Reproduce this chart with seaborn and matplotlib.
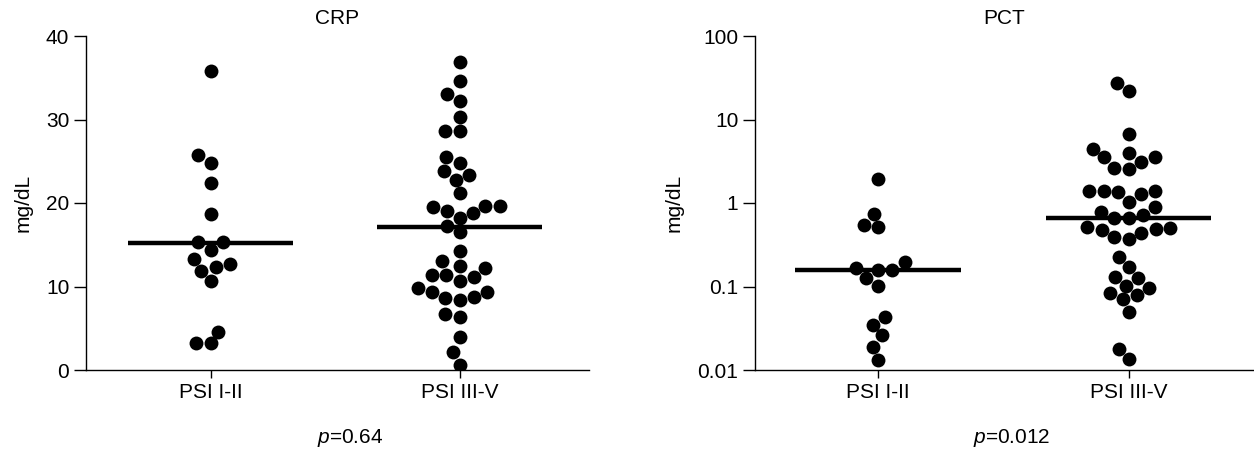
import matplotlib
matplotlib.use("Agg")
import matplotlib.pyplot as plt
import seaborn as sns
import pandas as pd

# valores
groups = ["PSI I-II", "PSI III-V"]
crp_psi12 = [35.8, 25.7, 24.8, 22.4, 18.7, 15.3, 15.3, 14.4, 13.3, 12.7, 12.3, 11.9,
             10.6, 4.6, 3.2, 3.2]
crp_psi35 = [36.9, 34.6, 33.1, 32.2, 30.3, 28.6, 28.6, 25.5, 24.8, 23.8, 23.4, 22.8,
             21.2, 19.7, 19.7, 19.5, 19.1, 18.8, 18.2, 17.3, 16.5, 14.2, 13.0, 12.4,
             12.2, 11.4, 11.4, 11.1, 10.7, 9.8, 9.4, 9.3, 8.8, 8.6, 8.4, 6.7, 6.4,
             3.9, 2.1, 0.6]
pct_psi12 = [1.92, 0.74, 0.55, 0.51, 0.195, 0.165, 0.158, 0.158, 0.125, 0.101, 0.043,
             0.035, 0.026, 0.019, 0.0132]
pct_psi35 = [27.6, 21.9, 6.7, 4.43, 3.94, 3.59, 3.52, 3.12, 2.65, 2.55, 1.39, 1.39,
             1.39, 1.37, 1.27, 1.04, 0.90, 0.79, 0.72, 0.67, 0.655, 0.52, 0.50, 0.484,
             0.475, 0.441, 0.395, 0.367, 0.227, 0.170, 0.129, 0.128, 0.102, 0.097,
             0.083, 0.079, 0.070, 0.049, 0.018, 0.0134]
crp_ticks = [0, 10, 20, 30, 40]
pct_ticks = [0.01, 0.1, 1, 10, 100]
pct_ticklabels = ["0.01", "0.1", "1", "10", "100"]
p_values = ["0.64", "0.012"]


def long_df(a, b):
    return pd.DataFrame({
        "grupo": [groups[0]] * len(a) + [groups[1]] * len(b),
        "valor": list(a) + list(b),
    })


crp = long_df(crp_psi12, crp_psi35)
pct = long_df(pct_psi12, pct_psi35)

sns.set_style("ticks")
plt.rcParams["font.family"] = ["Liberation Sans", "DejaVu Sans"]
plt.rcParams["mathtext.fontset"] = "custom"
plt.rcParams["mathtext.it"] = "Liberation Sans:italic"
plt.rcParams["mathtext.rm"] = "Liberation Sans"
plt.rcParams["text.color"] = "black"
plt.rcParams["axes.labelcolor"] = "black"

FS = 15

fig = plt.figure(figsize=(12.54, 4.49), dpi=100)
ax1 = fig.add_axes([86 / 1254, 79 / 449, 503 / 1254, 334 / 449])
ax2 = fig.add_axes([755 / 1254, 79 / 449, 499 / 1254, 334 / 449])

hidden = dict(showbox=False, showcaps=False, showfliers=False,
              whiskerprops={"visible": False}, width=0.66)
line = {"color": "black", "linestyle": "-", "linewidth": 3.2}

# CRP: linha = média
sns.boxplot(data=crp, x="grupo", y="valor", order=groups, ax=ax1,
            medianprops={"visible": False}, showmeans=True, meanline=True,
            meanprops=line, **hidden)
sns.swarmplot(data=crp, x="grupo", y="valor", order=groups, ax=ax1,
              color="black", size=10, zorder=3)

# PCT: linha = mediana, escala log
sns.boxplot(data=pct, x="grupo", y="valor", order=groups, ax=ax2,
            medianprops=line, log_scale=True, **hidden)
sns.swarmplot(data=pct, x="grupo", y="valor", order=groups, ax=ax2,
              color="black", size=10, zorder=3)

ax1.set_ylim(0, 40)
ax1.set_yticks(crp_ticks)
ax1.set_xlim(-0.5, 1.52)
ax2.set_ylim(0.01, 100)
ax2.set_yticks(pct_ticks)
ax2.set_yticklabels(pct_ticklabels)
ax2.minorticks_off()
ax2.set_xlim(-0.49, 1.5)

for ax, title in [(ax1, "CRP"), (ax2, "PCT")]:
    sns.despine(ax=ax)
    ax.set_title(title, fontsize=FS, pad=9, color="black")
    ax.set_xlabel("")
    ax.set_ylabel("mg/dL", fontsize=FS, labelpad=10, color="black")
    ax.tick_params(axis="y", length=8.5, width=1, labelsize=FS, colors="black")
    ax.tick_params(axis="x", length=6, width=1, labelsize=FS, colors="black")
    for s in ["left", "bottom"]:
        ax.spines[s].set_color("black")
        ax.spines[s].set_linewidth(1)

fig.text(350 / 1254, 1 - 438 / 449, "$p$=" + p_values[0], ha="center", va="center",
         fontsize=FS)
fig.text(1012 / 1254, 1 - 438 / 449, "$p$=" + p_values[1], ha="center", va="center",
         fontsize=FS)

fig.savefig("out.png", dpi=100)
